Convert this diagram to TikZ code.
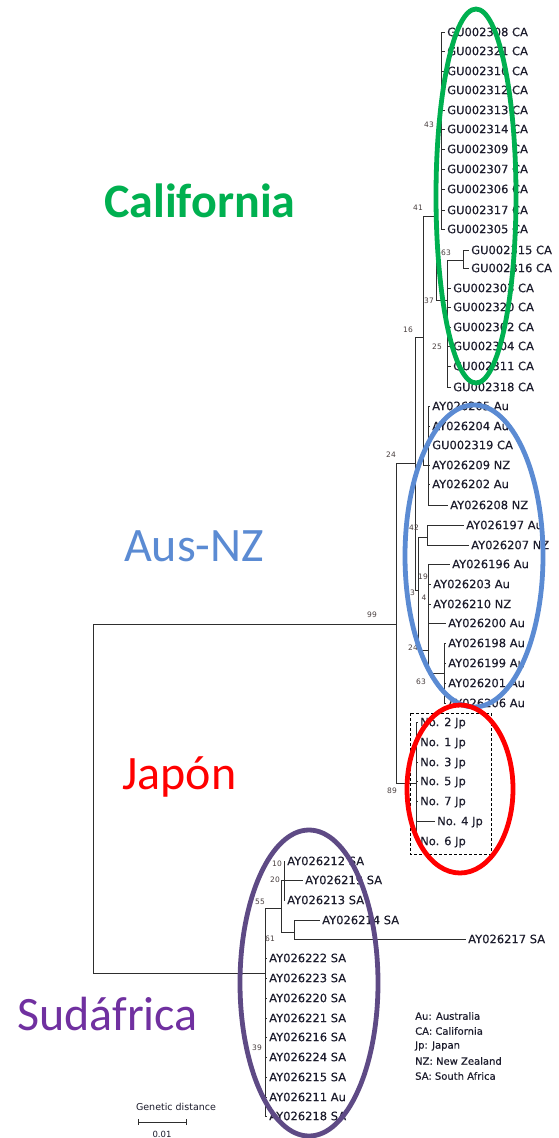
\documentclass[tikz,border=0pt]{standalone}
\usepackage{fontspec}
\setmainfont{DejaVu Sans}
\newfontfamily\bigf{Carlito}
\newfontfamily\leaff[FakeBold=0.35]{DejaVu Sans}
\definecolor{treec}{HTML}{2E2E2E}
\definecolor{labc}{HTML}{1C1C2C}
\definecolor{supc}{HTML}{4A4040}
\definecolor{cgreen}{HTML}{00B050}
\definecolor{cblue}{HTML}{5B8BD3}
\definecolor{cred}{HTML}{FF0000}
\definecolor{cpurple}{HTML}{7030A0}
\definecolor{cpurpleell}{HTML}{5E4A85}
\begin{document}
\begin{tikzpicture}[x=1pt,y=-1pt,
  leaf/.style={anchor=west,inner xsep=2pt,inner ysep=0pt,text height=8.3pt,text depth=0pt,
    font=\leaff\fontsize{11.5}{12}\selectfont,text=labc},
  bsv/.style={inner sep=0pt,font=\fontsize{7.5}{8}\selectfont,text=supc},
  br/.style={draw=treec,line width=1pt},
  ell/.style={line width=4.8pt},
  region/.style={anchor=base west,inner sep=0pt,font=\bigf\fontsize{48}{52}\selectfont},
  legend/.style={anchor=west,inner sep=0pt,font=\leaff\fontsize{10}{11}\selectfont,text=labc}]
\useasboundingbox (0,0) rectangle (558,1138);
\fill[white] (0,0) rectangle (558,1138);

% internal nodes
\coordinate (root) at (93,800);
\coordinate (n99) at (396,624);
\coordinate (n24) at (415,463);
\coordinate (n16) at (423,337);
\coordinate (n41) at (436,216);
\coordinate (n43) at (441,130);
\coordinate (n37) at (447,300);
\coordinate (n63) at (463,260);
\coordinate (p2) at (428,465);
\coordinate (n13) at (418,590);
\coordinate (n42) at (427,537);
\coordinate (n19) at (428,650);
\coordinate (n63b) at (444,673);
\coordinate (n89) at (416,783);
\coordinate (nsa) at (265,973);
\coordinate (n55) at (281,908);
\coordinate (n20) at (284,880);
\coordinate (n61) at (294,932);

% leaves: California
\node[leaf] (c1) at (445,32) {GU002308 CA};
\node[leaf] (c2) at (445,51) {GU002321 CA};
\node[leaf] (c3) at (445,71) {GU002310 CA};
\node[leaf] (c4) at (445,90) {GU002312 CA};
\node[leaf] (c5) at (445,110) {GU002313 CA};
\node[leaf] (c6) at (445,129) {GU002314 CA};
\node[leaf] (c7) at (445,149) {GU002309 CA};
\node[leaf] (c8) at (445,169) {GU002307 CA};
\node[leaf] (c9) at (445,189) {GU002306 CA};
\node[leaf] (c10) at (445,210) {GU002317 CA};
\node[leaf] (c11) at (445,229) {GU002305 CA};
\node[leaf] (c12) at (469,250) {GU002315 CA};
\node[leaf] (c13) at (469,268) {GU002316 CA};
\node[leaf] (c14) at (451,288) {GU002303 CA};
\node[leaf] (c15) at (451,307) {GU002320 CA};
\node[leaf] (c16) at (451,327) {GU002302 CA};
\node[leaf] (c17) at (451,346) {GU002304 CA};
\node[leaf] (c18) at (451,366) {GU002311 CA};
\node[leaf] (c19) at (451,387) {GU002318 CA};
% Aus-NZ
\node[leaf] (a1) at (430,406) {AY026205 Au};
\node[leaf] (a2) at (430,426) {AY026204 Au};
\node[leaf] (a3) at (430,445) {GU002319 CA};
\node[leaf] (a4) at (430,465) {AY026209 NZ};
\node[leaf] (a5) at (430,484) {AY026202 Au};
\node[leaf] (a6) at (448,505) {AY026208 NZ};
\node[leaf] (a7) at (464,525) {AY026197 Au};
\node[leaf] (a8) at (469,545) {AY026207 NZ};
\node[leaf] (a9) at (450,564) {AY026196 Au};
\node[leaf] (a10) at (431,584) {AY026203 Au};
\node[leaf] (a11) at (431,604) {AY026210 NZ};
\node[leaf] (a12) at (446,623) {AY026200 Au};
\node[leaf] (a13) at (446,643) {AY026198 Au};
\node[leaf] (a14) at (446,663) {AY026199 Au};
\node[leaf] (a15) at (446,683) {AY026201 Au};
\node[leaf] (a16) at (446,703) {AY026206 Au};
% Japan
\node[leaf] (j1) at (418,722) {No. 2 Jp};
\node[leaf] (j2) at (418,742) {No. 1 Jp};
\node[leaf] (j3) at (418,762) {No. 3 Jp};
\node[leaf] (j4) at (418,781) {No. 5 Jp};
\node[leaf] (j5) at (418,801) {No. 7 Jp};
\node[leaf] (j6) at (435,821) {No. 4 Jp};
\node[leaf] (j7) at (418,841) {No. 6 Jp};
% South Africa
\node[leaf] (s1) at (285,861) {AY026212 SA};
\node[leaf] (s2) at (303,880) {AY026219 SA};
\node[leaf] (s3) at (285,900) {AY026213 SA};
\node[leaf] (s4) at (320,920) {AY026214 SA};
\node[leaf] (s5) at (466,939) {AY026217 SA};
\node[leaf] (s6) at (267,958) {AY026222 SA};
\node[leaf] (s7) at (267,978) {AY026223 SA};
\node[leaf] (s8) at (267,998) {AY026220 SA};
\node[leaf] (s9) at (267,1018) {AY026221 SA};
\node[leaf] (s10) at (267,1037) {AY026216 SA};
\node[leaf] (s11) at (267,1057) {AY026224 SA};
\node[leaf] (s12) at (267,1077) {AY026215 SA};
\node[leaf] (s13) at (267,1097) {AY026211 Au};
\node[leaf] (s14) at (267,1116) {AY026218 SA};

% branches
\draw[br] (root) |- (n99);
\draw[br] (root) |- (nsa);
\draw[br] (n99) |- (n24);
\draw[br] (n99) |- (n89);
\draw[br] (n24) |- (n16);
\draw[br] (n24) |- (n13);
\draw[br] (n16) |- (n41);
\draw[br] (n16) |- (p2);
\draw[br] (n41) |- (n43);
\draw[br] (n41) |- (n37);
\draw[br] (n37) |- (n63);
\draw[br] (n13) |- (n42);
\draw[br] (n13) |- (n19);
\draw[br] (n19) |- (n63b);
\draw[br] (nsa) |- (n55);
\draw[br] (n55) |- (n20);
\draw[br] (n55) |- (n61);
\foreach \i in {1,...,11} \draw[br] (n43) |- (c\i.west);
\foreach \i in {12,13} \draw[br] (n63) |- (c\i.west);
\foreach \i in {14,...,19} \draw[br] (n37) |- (c\i.west);
\foreach \i in {1,...,6} \draw[br] (p2) |- (a\i.west);
\foreach \i in {7,8} \draw[br] (n42) |- (a\i.west);
\foreach \i in {9,...,12} \draw[br] (n19) |- (a\i.west);
\foreach \i in {13,...,16} \draw[br] (n63b) |- (a\i.west);
\foreach \i in {1,...,7} \draw[br] (n89) |- (j\i.west);
\foreach \i in {1,2,3} \draw[br] (n20) |- (s\i.west);
\foreach \i in {4,5} \draw[br] (n61) |- (s\i.west);
\foreach \i in {6,...,14} \draw[br] (nsa) |- (s\i.west);

% support values
\node[bsv] (b43) at (429,125) {43};
\node[bsv] (b41) at (418,208) {41};
\node[bsv] (b63) at (446,253) {63};
\node[bsv] (b37) at (429,301) {37};
\node[bsv] (b16) at (408,330) {16};
\node[bsv] (b25) at (437,347) {25};
\node[bsv] (b3) at (417,468) {3};
\node[bsv] (b24) at (391,455) {24};
\node[bsv] (b42) at (414,528) {42};
\node[bsv] (b19) at (423,577) {19};
\node[bsv] (b13) at (410,593) {13};
\node[bsv] (b4) at (424,598) {4};
\node[bsv] (b24b) at (413,648) {24};
\node[bsv] (b63b) at (421,682) {63};
\node[bsv] (b99) at (372,615) {99};
\node[bsv] (b89) at (392,791) {89};
\node[bsv] (b10) at (277,864) {10};
\node[bsv] (b20) at (275,880) {20};
\node[bsv] (b55) at (260,902) {55};
\node[bsv] (b61) at (270,939) {61};
\node[bsv] (b39) at (257,1048) {39};

% Japan dashed box
\draw[black,line width=0.9pt,dash pattern=on 3pt off 2pt] (410,713) rectangle (491,854);

% scale bar and legend
\node[inner sep=0pt,font=\fontsize{9.5}{10}\selectfont,text=labc] (gd) at (176,1107) {Genetic distance};
\coordinate (sb1) at (138,1122);
\coordinate (sb2) at (186,1122);
\draw[br] (sb1) -- (sb2);
\draw[br] ([yshift=3pt]sb1) -- ([yshift=-3pt]sb1);
\draw[br] ([yshift=3pt]sb2) -- ([yshift=-3pt]sb2);
\node[inner sep=0pt,font=\fontsize{8.5}{9}\selectfont,text=labc] (sbl) at (162,1134) {0.01};
\node[legend] (l1) at (415,1016) {Au: Australia};
\node[legend] (l2) at (415,1031) {CA: California};
\node[legend] (l3) at (415,1046) {Jp: Japan};
\node[legend] (l4) at (415,1061) {NZ: New Zealand};
\node[legend] (l5) at (415,1076) {SA: South Africa};

% ellipses
\draw[ell,cgreen] (476,196) ellipse [x radius=40pt, y radius=187pt];
\draw[ell,cblue] (474,556) ellipse [x radius=69pt, y radius=151pt];
\draw[ell,cred] (460,789) ellipse [x radius=53pt, y radius=84pt];
\draw[ell,cpurpleell] (309,983) ellipse [x radius=69pt, y radius=153pt];

% region labels
\node[region,text=cgreen,font=\bigf\bfseries\fontsize{48}{52}\selectfont] (tca) at (104,217) {California};
\node[region,text=cblue] (tau) at (124,561) {Aus-NZ};
\node[region,text=cred] (tjp) at (122,789) {Japón};
\node[region,text=cpurple] (tsa) at (17,1030) {Sudáfrica};
\end{tikzpicture}
\end{document}
